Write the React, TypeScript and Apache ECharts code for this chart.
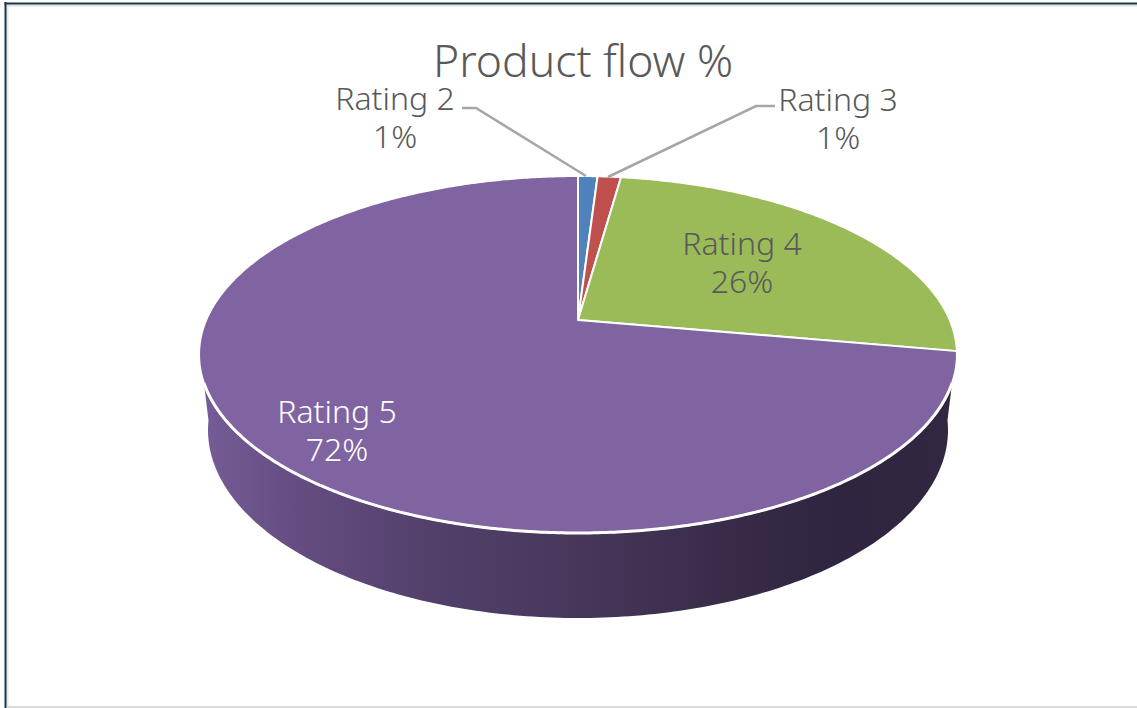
import React, { useEffect, useRef } from "react";
import * as echarts from "echarts";

const titleText = "Product flow %";
const categories = ["Rating 2", "Rating 3", "Rating 4", "Rating 5"];
const values = [1.0, 1.2, 25.6, 72.2];
const sliceColors = ["#4f81bd", "#c0504d", "#9bbb59", "#8064a2"];
const labelColors = ["#595959", "#595959", "#595959", "#ffffff"];

// Layout of the drawing: perspective projection of a disc
const CX = 578, CY = 320, K = 0.1933, BX = 371.8, BY = 171.8;
const WALL_FROM = 110, WALL_TO = 250;
const FONT = "'Noto Sans', Lato, sans-serif";
const labelAnchors: [number, number][] = [[395, 116], [838, 117], [742, 261], [337, 429]];
const leaders: [number, number][][] = [
  [[462, 108], [476, 108], [586, 176]],
  [[775, 106], [756, 106], [608, 177]],
];

function project(deg: number): [number, number] {
  const t = (deg * Math.PI) / 180;
  const u = Math.sin(t), v = Math.cos(t);
  const w = 1 + K * v;
  return [CX + (BX * u) / w, CY - (BY * v) / w];
}
function arc(from: number, to: number): [number, number][] {
  const n = Math.max(2, Math.ceil(Math.abs(to - from) * 2));
  const pts: [number, number][] = [];
  for (let i = 0; i <= n; i++) pts.push(project(from + ((to - from) * i) / n));
  return pts;
}
function lowerRim(): [number, number][] {
  const pts: [number, number][] = [];
  for (let d = 183; d >= -3; d -= 1) {
    const t = (d * Math.PI) / 180;
    pts.push([CX + 370 * Math.cos(t), 430 + 188 * Math.sin(t)]);
  }
  return pts;
}

const total = values.reduce((a, b) => a + b, 0);

function renderItem(params: any, api: any) {
  const i = params.dataIndex;
  const value = api.value(0);
  const before = values.slice(0, i).reduce((a, b) => a + b, 0);
  const start = (before / total) * 360;
  const end = ((before + value) / total) * 360;
  const children: any[] = [];
  const wFrom = Math.max(start, WALL_FROM), wTo = Math.min(end, WALL_TO);
  const hasWall = wTo > wFrom;
  if (hasWall) {
    children.push({
      type: "polygon",
      shape: { points: [...arc(wFrom, wTo), ...lowerRim()] },
      style: {
        fill: new echarts.graphic.LinearGradient(0, 0, 1, 0, [
          { offset: 0, color: "#755c97" },
          { offset: 0.13, color: "#644c80" },
          { offset: 0.32, color: "#503f69" },
          { offset: 0.45, color: "#4a3a5f" },
          { offset: 0.72, color: "#372a47" },
          { offset: 0.85, color: "#2f2540" },
          { offset: 1, color: "#322741" },
        ]),
        stroke: "none",
      },
    });
  }
  children.push({
    type: "polygon",
    shape: { points: [[CX, CY], ...arc(start, end)] },
    style: { fill: sliceColors[i], stroke: "#ffffff", lineWidth: 2, lineJoin: "round" },
  });
  if (hasWall) {
    children.push({
      type: "polyline",
      shape: { points: arc(wFrom, wTo) },
      style: { stroke: "#ffffff", lineWidth: 3, fill: "none" },
    });
  }
  if (leaders[i]) {
    children.push({
      type: "polyline",
      shape: { points: leaders[i] },
      style: { stroke: "#a6a6a6", lineWidth: 2.5, fill: "none" },
    });
  }
  children.push({
    type: "text",
    x: labelAnchors[i][0],
    y: labelAnchors[i][1],
    style: {
      text: `${categories[i]}\n${Math.round((value / total) * 100)}%`,
      fill: labelColors[i],
      font: `300 32px ${FONT}`,
      lineHeight: 38,
      align: "center",
      verticalAlign: "middle",
    },
  });
  return { type: "group", children };
}

export default function App() {
  const ref = useRef<HTMLDivElement>(null);
  useEffect(() => {
    document.body.style.margin = "0";
    const chart = echarts.init(ref.current!, undefined, { renderer: "svg" });
    chart.setOption({
      animation: false,
      backgroundColor: "#ffffff",
      title: {
        text: titleText,
        left: 578,
        top: 32,
        textAlign: "center",
        textStyle: { color: "#595959", fontFamily: FONT, fontWeight: 300, fontSize: 44.5 },
      },
      graphic: [
        { type: "line", shape: { x1: 7.5, y1: 4, x2: 7.5, y2: 708 }, style: { stroke: "#e4e6e8", lineWidth: 2 } },
        { type: "line", shape: { x1: 6, y1: 5.5, x2: 1137, y2: 5.5 }, style: { stroke: "#dfe2e4", lineWidth: 2 } },
        { type: "line", shape: { x1: 5.5, y1: 2, x2: 5.5, y2: 708 }, style: { stroke: "#1d3747", lineWidth: 2 } },
        { type: "line", shape: { x1: 4.5, y1: 3.5, x2: 1137, y2: 3.5 }, style: { stroke: "#1d3747", lineWidth: 2 } },
        { type: "line", shape: { x1: 7, y1: 707, x2: 1137, y2: 707 }, style: { stroke: "#dcdcdc", lineWidth: 2 } },
      ],
      series: [
        {
          type: "custom",
          coordinateSystem: "none",
          renderItem,
          clip: false,
          data: values.map((v, i) => ({ name: categories[i], value: [v] })),
        },
      ],
    });
    return () => chart.dispose();
  }, []);
  return <div ref={ref} style={{ position: "fixed", left: 0, top: 0, width: 1137, height: 708 }} />;
}
